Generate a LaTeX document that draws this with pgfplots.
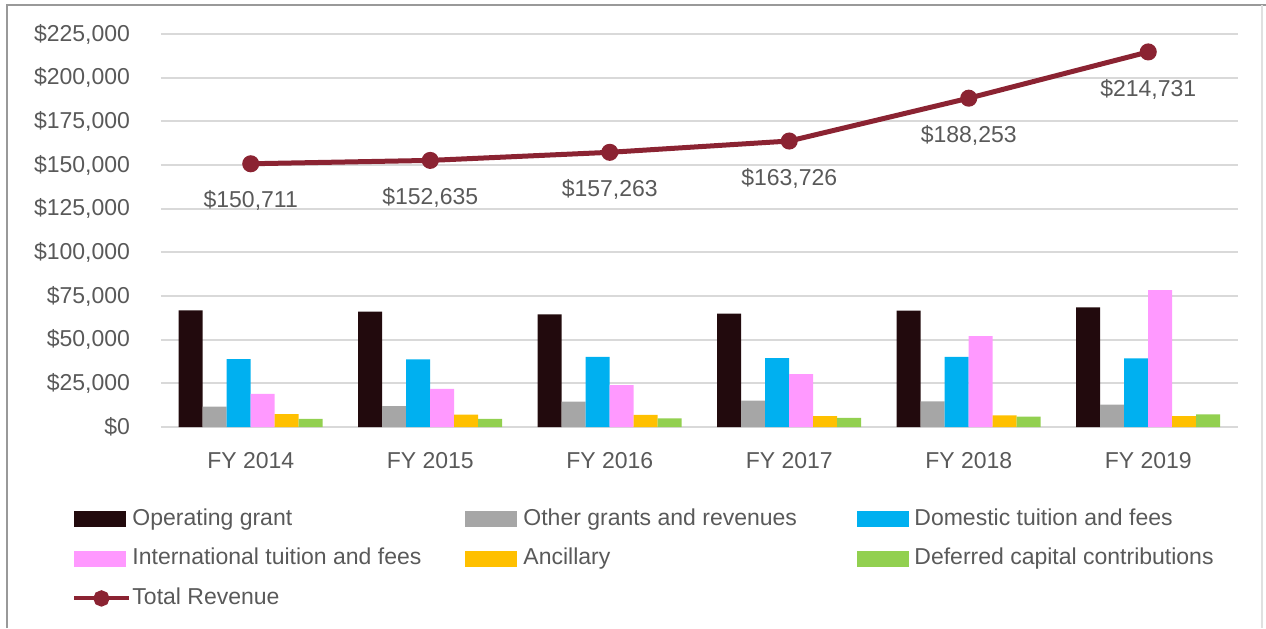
\documentclass[border=0pt]{standalone}
\usepackage{fontspec}
\setmainfont{Liberation Sans}
\usepackage{pgfplots}
\pgfplotsset{compat=1.18}
\definecolor{tc}{HTML}{595959}
\definecolor{cog}{HTML}{220A0D}
\definecolor{cot}{HTML}{A6A6A6}
\definecolor{cdo}{HTML}{00B0F0}
\definecolor{cin}{HTML}{FF99FF}
\definecolor{can}{HTML}{FFC000}
\definecolor{cde}{HTML}{92D050}
\definecolor{ctot}{HTML}{8B2332}
\definecolor{cgrid}{HTML}{D9D9D9}
\pgfplotsset{
  barimg/.style={legend image code/.code={\fill[##1] (0pt,-4pt) rectangle (26pt,4pt);}},
  totimg/.style={legend image code/.code={\draw[##1, line width=2pt, mark=none] (0pt,0pt) -- (27.5pt,0pt); \fill[ctot] (13.5pt,0pt) circle (2.8pt);}},
}
\begin{document}
\begin{tikzpicture}[font=\fontsize{11.5}{13.8}\selectfont]
\useasboundingbox (-80.5pt,-100.5pt) rectangle (552.5pt,213.5pt);
\begin{axis}[
  at={(0,0)}, anchor=south west, scale only axis,
  width=538.5pt, height=196.5pt,
  xmin=-0.5, xmax=5.5, ymin=0, ymax=225000,
  xtick={0,1,2,3,4,5},
  xticklabels={FY 2014,FY 2015,FY 2016,FY 2017,FY 2018,FY 2019},
  ytick={0,25000,50000,75000,100000,125000,150000,175000,200000,225000},
  scaled y ticks=false,
  yticklabel={\$\pgfmathprintnumber[fixed,precision=0,1000 sep={,}]{\tick}},
  /pgf/number format/assume math mode=true,
  axis line style={draw=none},
  major tick length=0pt,
  ymajorgrids,
  grid style={draw=cgrid, line width=0.9pt},
  tick label style={text=tc},
  yticklabel style={xshift=-12pt},
  xticklabel style={yshift=-9pt},
  legend style={
    at={(-0.0826,-0.196)}, anchor=north west,
    draw=none, fill=none, inner sep=0pt,
    legend columns=3,
    row sep=4.75pt,
    nodes={inner xsep=0.5pt, inner ysep=2pt, text height=8.5pt, text depth=2.5pt, text=tc},
  },
  legend cell align=left,
]
\addplot[ybar, bar width=12pt, bar shift=-30pt, fill=cog, draw=none, barimg] coordinates {(0,66800) (1,66000) (2,64500) (3,64900) (4,66600) (5,68500)};
\addlegendentry{\makebox[166pt][l]{Operating grant}}
\addplot[ybar, bar width=12pt, bar shift=-18pt, fill=cot, draw=none, barimg] coordinates {(0,11600) (1,12000) (2,14500) (3,15100) (4,14700) (5,12800)};
\addlegendentry{\makebox[169pt][l]{\hspace*{2.5pt}Other grants and revenues}}
\addplot[ybar, bar width=12pt, bar shift=-6pt, fill=cdo, draw=none, barimg] coordinates {(0,38900) (1,38700) (2,40100) (3,39500) (4,40100) (5,39300)};
\addlegendentry{\hspace*{2pt}Domestic tuition and fees}
\addplot[ybar, bar width=12pt, bar shift=6pt, fill=cin, draw=none, barimg] coordinates {(0,18900) (1,21800) (2,24000) (3,30300) (4,52100) (5,78400)};
\addlegendentry{\makebox[166pt][l]{International tuition and fees}}
\addplot[ybar, bar width=12pt, bar shift=18pt, fill=can, draw=none, barimg] coordinates {(0,7400) (1,7100) (2,6900) (3,6300) (4,6700) (5,6300)};
\addlegendentry{\makebox[169pt][l]{\hspace*{2.5pt}Ancillary}}
\addplot[ybar, bar width=12pt, bar shift=30pt, fill=cde, draw=none, barimg] coordinates {(0,4600) (1,4600) (2,5000) (3,5200) (4,5900) (5,7200)};
\addlegendentry{\hspace*{2pt}Deferred capital contributions}
\addplot[color=ctot, line width=2.5pt, mark=*, mark size=3pt, mark options={fill=ctot, draw=ctot},
  point meta=explicit symbolic,
  nodes near coords,
  every node near coord/.append style={anchor=north, yshift=-9pt, text=tc, font=\fontsize{11.5}{13.8}\selectfont},
  totimg
] coordinates {(0,150711) [\$150,711] (1,152635) [\$152,635] (2,157263) [\$157,263] (3,163726) [\$163,726] (4,188253) [\$188,253] (5,214731) [\$214,731]};
\addlegendentry{Total Revenue}
\end{axis}
\draw[color=black!40, line width=0.8pt] (-77pt,-100.5pt) -- (-77pt,211pt) -- (552.5pt,211pt);
\draw[color=black!12, line width=0.8pt] (550.5pt,211pt) -- (550.5pt,-100.5pt);
\end{tikzpicture}
\end{document}
